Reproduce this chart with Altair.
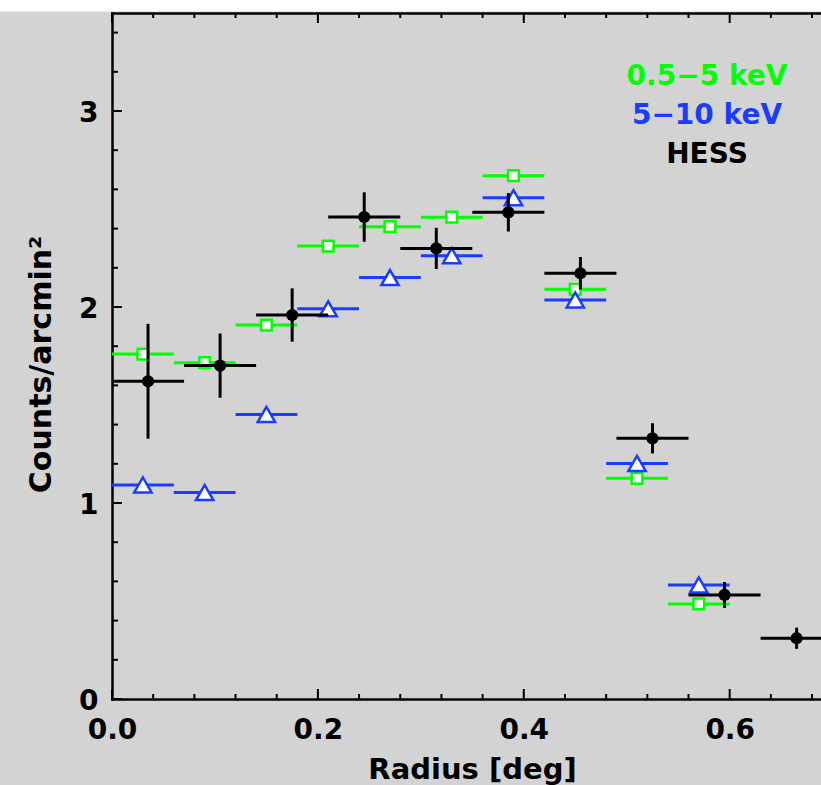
import altair as alt
import pandas as pd

# ---- data ----
XRAY_R = [0.03, 0.09, 0.15, 0.21, 0.27, 0.33, 0.39, 0.45, 0.51, 0.57]
XRAY_R_LO = [0.00, 0.06, 0.12, 0.18, 0.24, 0.30, 0.36, 0.42, 0.48, 0.54]
XRAY_R_HI = [0.06, 0.12, 0.18, 0.24, 0.30, 0.36, 0.42, 0.48, 0.54, 0.60]
SOFT = [1.760, 1.716, 1.908, 2.311, 2.410, 2.458, 2.670, 2.090, 1.126, 0.485]
HARD = [1.092, 1.053, 1.452, 1.991, 2.150, 2.262, 2.558, 2.036, 1.202, 0.582]

HESS_R = [0.035, 0.105, 0.175, 0.245, 0.315, 0.385, 0.455, 0.525, 0.595, 0.665]
HESS_R_LO = [0.00, 0.07, 0.14, 0.21, 0.28, 0.35, 0.42, 0.49, 0.56, 0.63]
HESS_R_HI = [0.07, 0.14, 0.21, 0.28, 0.35, 0.42, 0.49, 0.56, 0.63, 0.70]
HESS = [1.621, 1.701, 1.959, 2.459, 2.299, 2.483, 2.172, 1.330, 0.531, 0.310]
HESS_ERR = [0.293, 0.164, 0.136, 0.126, 0.105, 0.098, 0.083, 0.077, 0.066, 0.054]

LEGEND_LABELS = ["0.5\u22125 keV", "5\u221210 keV", "HESS"]

X_MAJOR = [0.0, 0.2, 0.4, 0.6]
X_MINOR = [0.04, 0.08, 0.12, 0.16, 0.24, 0.28, 0.32, 0.36,
           0.44, 0.48, 0.52, 0.56, 0.64, 0.68]
Y_MAJOR = [0.0, 1.0, 2.0, 3.0]
Y_MINOR = [0.2, 0.4, 0.6, 0.8, 1.2, 1.4, 1.6, 1.8, 2.2, 2.4, 2.6, 2.8, 3.2, 3.4]

# ---- styling ----
GREEN = "#00ff00"
BLUE = "#1a3cff"
BLACK = "#000000"
BG = "#d3d3d3"
FONT = "DejaVu Sans"
W, H = 709, 686

XS = alt.Scale(domain=[0, 0.6887], nice=False, zero=False)
YS = alt.Scale(domain=[0, 3.5], nice=False, zero=False)

Y_AXIS = alt.Axis(
    orient="left", values=Y_MAJOR, format=".0f", ticks=False, grid=False,
    domain=True, domainColor=BLACK, domainWidth=2.5,
    labelPadding=14, labelOffset=2,
    title="Counts/arcmin\u00b2", titleFontSize=30,
    titleX=-62, titleY=351, titleAngle=270, titleAlign="center",
    titleBaseline="alphabetic")

X_AXIS = alt.Axis(
    orient="bottom", values=X_MAJOR, format=".1f", ticks=False,
    grid=False, domain=True, domainColor=BLACK, domainWidth=2.5,
    labelPadding=17, labelFlush=False,
    title="Radius [deg]", titleX=360, titleY=79,
    titleBaseline="alphabetic", titleAlign="center")

X_TOP_AXIS = alt.Axis(
    orient="top", labels=False, ticks=False, grid=False, domain=True,
    domainColor=BLACK, domainWidth=2.5, title=None)

soft_df = pd.DataFrame({"r": XRAY_R, "lo": XRAY_R_LO, "hi": XRAY_R_HI, "v": SOFT})
hard_df = pd.DataFrame({"r": XRAY_R, "lo": XRAY_R_LO, "hi": XRAY_R_HI, "v": HARD})
hess_df = pd.DataFrame({"r": HESS_R, "lo": HESS_R_LO, "hi": HESS_R_HI, "v": HESS,
                        "e": HESS_ERR})
hess_df["vlo"] = hess_df["v"] - hess_df["e"]
hess_df["vhi"] = hess_df["v"] + hess_df["e"]

one = pd.DataFrame({"k": [0]})

# white strip above the figure
strip = alt.Chart(one).mark_rect(fill="white", stroke=None).encode(
    x=alt.value(-112), x2=alt.value(W), y=alt.value(-13), y2=alt.value(-1.5))

# bottom ticks (carry the bottom axis)
xmaj_bottom = alt.Chart(pd.DataFrame({"tx": X_MAJOR})).mark_rule(
    color=BLACK, strokeWidth=2).encode(
    x=alt.X("tx:Q", scale=XS, axis=X_AXIS),
    y=alt.value(H - 10), y2=alt.value(H))
xmin_bottom = alt.Chart(pd.DataFrame({"tx": X_MINOR})).mark_rule(
    color=BLACK, strokeWidth=2).encode(
    x=alt.X("tx:Q", scale=XS, axis=None),
    y=alt.value(H - 5), y2=alt.value(H))

# top ticks (carry the top frame line)
xmaj_top = alt.Chart(pd.DataFrame({"tx": X_MAJOR})).mark_rule(
    color=BLACK, strokeWidth=2).encode(
    x=alt.X("tx:Q", scale=XS, axis=X_TOP_AXIS),
    y=alt.value(0), y2=alt.value(10))
xmin_top = alt.Chart(pd.DataFrame({"tx": X_MINOR})).mark_rule(
    color=BLACK, strokeWidth=2).encode(
    x=alt.X("tx:Q", scale=XS, axis=None),
    y=alt.value(0), y2=alt.value(5))

# left ticks (carry the left axis)
ymaj = alt.Chart(pd.DataFrame({"ty": Y_MAJOR})).mark_rule(
    color=BLACK, strokeWidth=2).encode(
    y=alt.Y("ty:Q", scale=YS, axis=Y_AXIS),
    x=alt.value(0), x2=alt.value(10))
ymin = alt.Chart(pd.DataFrame({"ty": Y_MINOR})).mark_rule(
    color=BLACK, strokeWidth=2).encode(
    y=alt.Y("ty:Q", scale=YS, axis=None),
    x=alt.value(0), x2=alt.value(6))


def hbars(df, color):
    return alt.Chart(df).mark_rule(color=color, strokeWidth=3).encode(
        x=alt.X("lo:Q", scale=XS, axis=None), x2="hi:Q",
        y=alt.Y("v:Q", scale=YS, axis=None))


soft_bars = hbars(soft_df, GREEN)
soft_pts = alt.Chart(soft_df).mark_point(
    shape="square", filled=True, fill="white", stroke=GREEN, strokeWidth=2.5,
    size=115, opacity=1).encode(
    x=alt.X("r:Q", scale=XS, axis=None), y=alt.Y("v:Q", scale=YS, axis=None))

hard_bars = hbars(hard_df, BLUE)
hard_pts = alt.Chart(hard_df).mark_point(
    shape="triangle-up", filled=True, fill="white", stroke=BLUE,
    strokeWidth=2.5, size=300, opacity=1).encode(
    x=alt.X("r:Q", scale=XS, axis=None), y=alt.Y("v:Q", scale=YS, axis=None))

hess_hbars = hbars(hess_df, BLACK)
hess_vbars = alt.Chart(hess_df).mark_rule(color=BLACK, strokeWidth=3).encode(
    x=alt.X("r:Q", scale=XS, axis=None),
    y=alt.Y("vlo:Q", scale=YS, axis=None), y2="vhi:Q")
hess_pts = alt.Chart(hess_df).mark_circle(color=BLACK, size=150, opacity=1).encode(
    x=alt.X("r:Q", scale=XS, axis=None), y=alt.Y("v:Q", scale=YS, axis=None))

legend_layers = []
for label, color, ypos in zip(LEGEND_LABELS, [GREEN, BLUE, BLACK], [72, 111, 150]):
    legend_layers.append(
        alt.Chart(pd.DataFrame({"label": [label]})).mark_text(
            font=FONT, fontSize=28, fontWeight="bold", color=color,
            align="center", baseline="alphabetic").encode(
            x=alt.value(595), y=alt.value(ypos), text="label:N"))

chart = alt.layer(
    strip, xmaj_bottom, xmin_bottom, xmaj_top, xmin_top, ymaj, ymin,
    soft_bars, soft_pts, hard_bars, hard_pts,
    hess_hbars, hess_vbars, hess_pts, *legend_layers
).resolve_axis(
    x="independent", y="independent"
).properties(
    width=W, height=H,
    padding={"left": 112, "top": 13, "right": 0, "bottom": 86},
    autosize=alt.AutoSizeParams(type="none"),
    background=BG,
).configure_view(
    stroke=None, fill=None
).configure_axis(
    labelFont=FONT, labelFontSize=28, labelFontWeight="bold", labelColor=BLACK,
    titleFont=FONT, titleFontSize=29, titleFontWeight="bold", titleColor=BLACK,
    domainCap="square"
)

chart.save("out.html", embed_options={"renderer": "svg", "actions": False})
